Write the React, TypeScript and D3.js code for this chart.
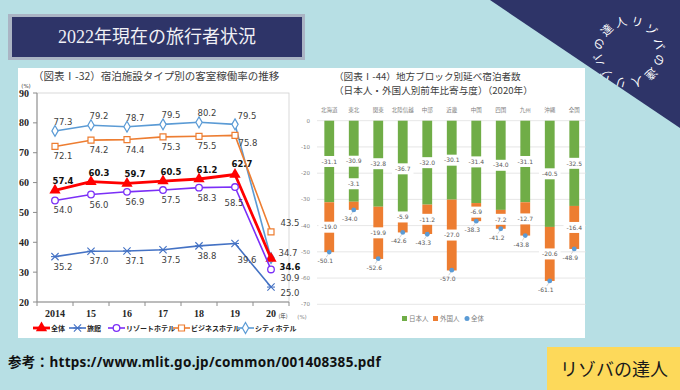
import * as d3 from "d3";

const W = 680;
const H = 390;

// left chart data (客室稼働率, %)
const years = ["2014", "15", "16", "17", "18", "19", "20"];
const cityHotel = [77.3, 79.2, 78.7, 79.5, 80.2, 79.5, 34.7];
const businessHotel = [72.1, 74.2, 74.4, 75.3, 75.5, 75.8, 43.5];
const allTypes = [57.4, 60.3, 59.7, 60.5, 61.2, 62.7, 34.6];
const resortHotel = [54.0, 56.0, 56.9, 57.5, 58.3, 58.5, 30.9];
const ryokan = [35.2, 37.0, 37.1, 37.5, 38.8, 39.6, 25.0];
const leftTicks = [20, 30, 40, 50, 60, 70, 80, 90];

// right chart data (寄与度, %)
const regions = ["北海道", "東北", "関東", "北陸信越", "中部", "近畿", "中国", "四国", "九州", "沖縄", "全国"];
const japanese = [-31.1, -30.9, -32.8, -36.7, -32.0, -30.1, -31.4, -34.0, -31.1, -40.5, -32.5];
const foreign = [-19.0, -3.1, -19.9, -5.9, -11.2, -27.0, -6.9, -7.2, -12.7, -20.6, -16.4];
const totals = [-50.1, -34.0, -52.6, -42.6, -43.3, -57.0, -38.3, -41.2, -43.8, -61.1, -48.9];
const rightTicks = [0, -10, -20, -30, -40, -50, -60, -70];

const ringChars = "リゾバの達人リゾバの達人".split("");

const NAVY = "#2e3468";
const JP = "Noto Sans CJK JP";

const series = [
  { name: "シティホテル", values: cityHotel, color: "#5b9bd5", width: 1.6, marker: "diamond", dy: -9, off5: [12, -8], last: [17, -5] },
  { name: "ビジネスホテル", values: businessHotel, color: "#ed7d31", width: 1.6, marker: "square", dy: 10, off5: [13, 8], last: [19, -9] },
  { name: "全体", values: allTypes, color: "#ff0000", width: 2.8, marker: "triangle", dy: -9, off5: [7, -11], last: [19, 9], bold: true },
  { name: "リゾートホテル", values: resortHotel, color: "#7b2ff7", width: 1.6, marker: "circle", dy: 10, off5: [-1, 16], last: [19, 9] },
  { name: "旅館", values: ryokan, color: "#4472c4", width: 1.6, marker: "times", dy: 10, off5: [12, 17], last: [19, 6] },
];

const legendOrder = ["全体", "旅館", "リゾートホテル", "ビジネスホテル", "シティホテル"];
const legendX = [33, 69, 108, 173, 237];

function Marker({ type, color, x, y }: { type: string; color: string; x: number; y: number }) {
  if (type === "circle") return <circle cx={x} cy={y} r={3.3} fill="#fff" stroke={color} strokeWidth={1.3} />;
  const sym =
    type === "diamond" ? d3.symbolDiamond : type === "square" ? d3.symbolSquare : type === "triangle" ? d3.symbolTriangle : d3.symbolTimes;
  const size = type === "triangle" ? 55 : type === "square" ? 36 : type === "diamond" ? 34 : 36;
  const d = d3.symbol().type(sym).size(size)() || "";
  if (type === "triangle") return <path d={d} transform={`translate(${x},${y})`} fill={color} />;
  if (type === "times")
    return (
      <g transform={`translate(${x},${y})`}>
        <path d={d} fill="none" stroke={color} strokeWidth={1.1} />
        <line x1={-4} x2={4} y1={0} y2={0} stroke={color} strokeWidth={1.1} />
      </g>
    );
  return <path d={d} transform={`translate(${x},${y})`} fill="#fff" stroke={color} strokeWidth={1.2} />;
}

function LeftChart() {
  const x = d3.scaleBand().domain(years).range([37, 289]);
  const y = d3.scaleLinear().domain([20, 90]).range([302, 93]);
  const cx = (yr: string) => (x(yr) || 0) + x.bandwidth() / 2;
  const line = d3
    .line<number>()
    .x((_, i) => cx(years[i]))
    .y((v) => y(v));

  return (
    <g>
      <text x={33} y={80} fontFamily={JP} fontSize={10.5} fill="#404040">
        （図表Ⅰ-32）宿泊施設タイプ別の客室稼働率の推移
      </text>
      <text x={26} y={88} textAnchor="middle" fontFamily="DejaVu Sans" fontSize={5.5} fill="#404040">
        (%)
      </text>
      <rect x={37} y={93} width={252} height={209} fill="none" stroke="#d0d0d0" strokeWidth={0.8} />
      <line x1={37} x2={37} y1={93} y2={302} stroke="#8c8c8c" />
      <line x1={37} x2={289} y1={302} y2={302} stroke="#8c8c8c" />
      {leftTicks.map((t) => (
        <g key={t}>
          <line x1={33} x2={37} y1={y(t)} y2={y(t)} stroke="#8c8c8c" />
          <text x={29} y={y(t) + 3.5} textAnchor="end" fontFamily="Liberation Serif" fontWeight="bold" fontSize={10} fill="#262626">
            {t}
          </text>
        </g>
      ))}
      {years.map((yr) => (
        <g key={yr}>
          <line x1={x(yr)} x2={x(yr)} y1={302} y2={306} stroke="#8c8c8c" />
          <text x={cx(yr)} y={317} textAnchor="middle" fontFamily="Liberation Serif" fontWeight="bold" fontSize={10} fill="#262626">
            {yr}
          </text>
        </g>
      ))}
      <line x1={289} x2={289} y1={302} y2={306} stroke="#8c8c8c" />
      <text x={283} y={318} textAnchor="middle" fontFamily={JP} fontSize={5.5} fill="#404040">
        (年)
      </text>

      {series.map((s) => (
        <g key={s.name}>
          <path d={line(s.values) || ""} fill="none" stroke={s.color} strokeWidth={s.width} strokeLinejoin="round" />
          {s.values.map((v, i) => (
            <Marker key={i} type={s.marker} color={s.color} x={cx(years[i])} y={y(v)} />
          ))}
        </g>
      ))}
      {series.map((s) =>
        s.values.map((v, i) => {
          const [dx, dy] = i === 6 ? s.last : i === 5 ? s.off5 : [8, s.dy];
          return (
            <text
              key={`${s.name}-${i}`}
              x={cx(years[i]) + dx}
              y={y(v) + dy + 3}
              textAnchor="middle"
              fontFamily="DejaVu Sans"
              fontSize={8.5}
              fontWeight={s.bold ? "bold" : "normal"}
              fill={s.bold ? "#111" : "#404040"}
            >
              {v.toFixed(1)}
            </text>
          );
        }),
      )}

      {legendOrder.map((name, i) => {
        const s = series.find((d) => d.name === name)!;
        const lx = legendX[i];
        return (
          <g key={name}>
            <line x1={lx} x2={lx + 17} y1={328} y2={328} stroke={s.color} strokeWidth={s.width} />
            <Marker type={s.marker} color={s.color} x={lx + 8.5} y={328} />
            <text x={lx + 18} y={330.5} fontFamily={JP} fontSize={7} fontWeight="bold" fill="#262626">
              {name}
            </text>
          </g>
        );
      })}
    </g>
  );
}

function RightChart() {
  const x = d3.scaleBand().domain(regions).range([317, 586.5]);
  const y = d3.scaleLinear().domain([-70, 0]).range([304.3, 120.7]);
  const bw = x.bandwidth() * 0.4;
  const cx = (r: string) => (x(r) || 0) + x.bandwidth() / 2;
  const box = (lx: number, ly: number, label: string) => {
    const w = label.length * 3.7 + 3;
    return (
      <g>
        <rect x={lx - w / 2} y={ly - 5.5} width={w} height={11} fill="#fff" />
        <text x={lx} y={ly + 2.2} textAnchor="middle" fontFamily="DejaVu Sans" fontSize={6} fill="#595959">
          {label}
        </text>
      </g>
    );
  };

  return (
    <g>
      <text x={334} y={79.5} fontFamily={JP} fontSize={9.6} fill="#404040">
        （図表Ⅰ-44）地方ブロック別延べ宿泊者数
      </text>
      <text x={334} y={93.5} fontFamily={JP} fontSize={9.6} fill="#404040">
        （日本人・外国人別前年比寄与度）（2020年）
      </text>
      {rightTicks.map((t) => (
        <g key={t}>
          <line x1={317} x2={586} y1={y(t)} y2={y(t)} stroke="#e0e0e0" strokeWidth={0.8} />
          <text x={310} y={y(t) + 2} textAnchor="end" fontFamily="DejaVu Sans" fontSize={5.5} fill="#7f7f7f">
            {t}
          </text>
        </g>
      ))}
      <text x={302} y={319} textAnchor="middle" fontFamily="DejaVu Sans" fontSize={5.5} fill="#7f7f7f">
        (%)
      </text>
      {regions.map((r) => (
        <text key={r} x={cx(r)} y={112} textAnchor="middle" fontFamily={JP} fontSize={5.5} fill="#7f7f7f">
          {r}
        </text>
      ))}
      {regions.map((r, i) => {
        const jp = japanese[i];
        const fr = foreign[i];
        return (
          <g key={r}>
            <rect x={cx(r) - bw / 2} y={y(0)} width={bw} height={y(jp) - y(0)} fill="#70ad47" />
            <rect x={cx(r) - bw / 2} y={y(jp)} width={bw} height={y(jp + fr) - y(jp)} fill="#ed7d31" />
          </g>
        );
      })}
      {regions.map((r, i) => {
        const jp = japanese[i];
        const fr = foreign[i];
        const frMid = Math.abs(fr) < 4 ? y(jp) - 18 : Math.abs(fr) < 6.5 ? y(jp) : y(jp + fr / 2);
        return (
          <g key={r}>
            {box(cx(r), y(jp / 2), jp.toFixed(1))}
            {box(cx(r), frMid, fr.toFixed(1))}
          </g>
        );
      })}
      {regions.map((r, i) => (
        <g key={r}>
          <circle cx={cx(r)} cy={y(totals[i])} r={2.4} fill="#5b9bd5" />
          <line x1={cx(r) - 1} x2={cx(r) - 3} y1={y(totals[i]) + 2} y2={y(totals[i]) + 5} stroke="#a6a6a6" strokeWidth={0.5} />
          <text x={cx(r) - 4} y={y(totals[i]) + 11} textAnchor="middle" fontFamily="DejaVu Sans" fontSize={6} fill="#595959">
            {totals[i].toFixed(1)}
          </text>
        </g>
      ))}
      <rect x={402} y={316} width={5} height={5} fill="#70ad47" />
      <text x={409} y={321} fontFamily={JP} fontSize={6.5} fill="#7f7f7f">日本人</text>
      <rect x={433} y={316} width={5} height={5} fill="#ed7d31" />
      <text x={440} y={321} fontFamily={JP} fontSize={6.5} fill="#7f7f7f">外国人</text>
      <circle cx={467} cy={318.5} r={2.5} fill="#5b9bd5" />
      <text x={471} y={321} fontFamily={JP} fontSize={6.5} fill="#7f7f7f">全体</text>
    </g>
  );
}

export default function App() {
  const rc = { x: 629, y: 52, r: 31 };
  return (
    <svg width={W} height={H} viewBox={`0 0 ${W} ${H}`} style={{ position: "fixed", left: 0, top: 0 }}>
      <rect width={W} height={H} fill="#b7dfe4" />
      <path d={`M490,0 L${W},0 L${W},128 Z`} fill={NAVY} />
      <g fill="#fff" fontFamily={JP} fontSize={11.5}>
        {ringChars.map((ch, i) => {
          const a = 15 + i * 30;
          const rad = (a * Math.PI) / 180;
          const px = rc.x + rc.r * Math.sin(rad);
          const py = rc.y - rc.r * Math.cos(rad);
          return (
            <text key={i} x={0} y={4} textAnchor="middle" transform={`translate(${px},${py}) rotate(${a})`}>
              {ch}
            </text>
          );
        })}
      </g>

      <rect x={8} y={14} width={297} height={46} fill="#aab4c4" />
      <rect x={12} y={17} width={290} height={40} fill={NAVY} />
      <text x={157} y={43} textAnchor="middle" fill="#f0f0f5" fontFamily={`Liberation Serif, ${JP}`} fontSize={18}>
        2022年現在の旅行者状況
      </text>

      <rect x={18} y={68} width={567} height={270} fill="#fff" />
      <LeftChart />
      <RightChart />

      <text x={8} y={367} fontFamily={`Noto Sans, ${JP}`} fontWeight="bold" fontSize={13.5} letterSpacing={0.3} fill="#111">
        参考：https://www.mlit.go.jp/common/001408385.pdf
      </text>
      <rect x={547} y={347} width={133} height={43} fill="#fdd95a" />
      <text x={614} y={376} textAnchor="middle" fontFamily={JP} fontSize={18} fill="#1a1a1a">
        リゾバの達人
      </text>
    </svg>
  );
}
